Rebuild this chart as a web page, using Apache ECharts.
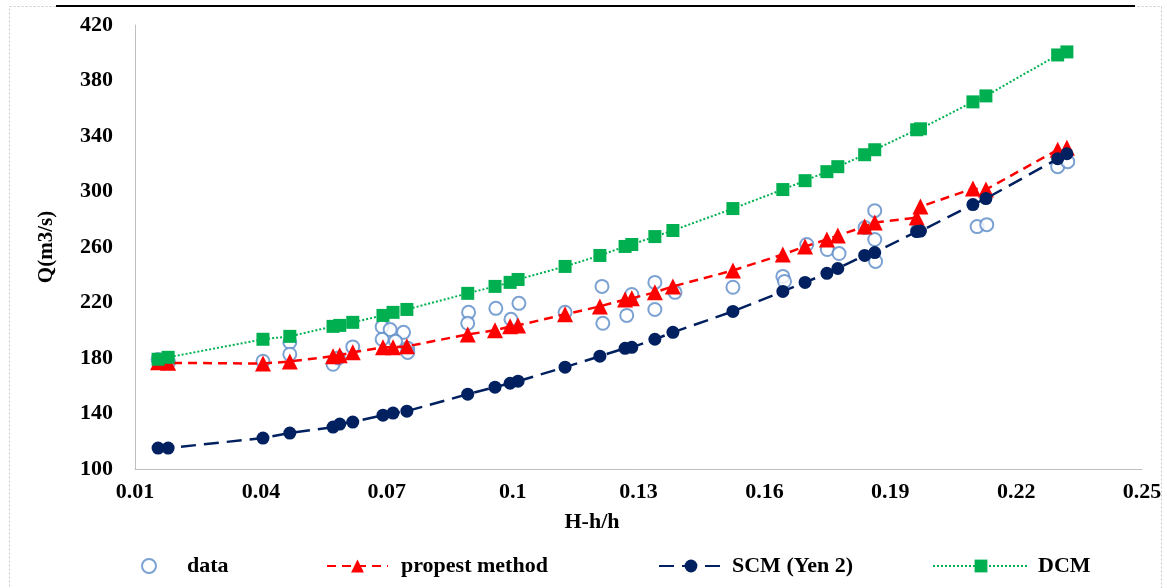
<!DOCTYPE html>
<html>
<head>
<meta charset="utf-8">
<script src="https://cdn.jsdelivr.net/npm/echarts@6/dist/echarts.min.js"></script>
<style>
html,body{margin:0;padding:0;background:#fff;}
#c{width:1167px;height:588px;}
</style>
</head>
<body>
<div id="c"></div>
<script>
// ---- data ----
const modelX = [0.0155, 0.0179, 0.0405, 0.0469, 0.0572, 0.0588, 0.0619, 0.0691, 0.0715, 0.0748,
  0.0893, 0.0958, 0.0994, 0.1013, 0.1125, 0.1208, 0.1268, 0.1284, 0.1339, 0.1382,
  0.1525, 0.1644, 0.1697, 0.1749, 0.1775, 0.1839, 0.1863, 0.1963, 0.1972, 0.2097,
  0.2128, 0.2299, 0.2321];
const propestQ = [177, 176.5, 176, 177.5, 181.3, 182.0, 184.1, 187.7, 187.7, 188.4,
  197.0, 200.0, 202.8, 203.5, 211.5, 217.2, 222.2, 223.0, 227.3, 231.6,
  243.1, 254.6, 260.4, 265.4, 268.3, 274.7, 277.6, 281.2, 289.1, 302.1,
  301.4, 330.1, 331.5];
const scmQ = [115.1, 115.1, 122.3, 125.9, 130.2, 132.4, 133.8, 138.8, 140.3, 141.7,
  153.9, 159.0, 161.8, 163.3, 173.4, 181.3, 187.0, 187.7, 193.5, 198.5,
  213.6, 228.0, 234.5, 241.0, 244.5, 253.9, 256.0, 271.1, 271.5, 290.6,
  294.9, 323.6, 327.2];
const dcmQ = [179.1, 180.5, 193.5, 195.6, 202.8, 203.5, 205.7, 210.7, 212.9, 215.0,
  226.6, 231.6, 234.5, 236.6, 246.0, 253.9, 260.4, 261.8, 267.5, 271.9,
  287.7, 301.4, 307.8, 314.3, 317.9, 326.5, 330.1, 344.5, 345.2, 364.6,
  368.9, 398.4, 400.6];
const dataX = [0.0155, 0.018, 0.0405, 0.0469, 0.0469, 0.0572, 0.0585, 0.0619, 0.0689, 0.0708,
  0.074, 0.0689, 0.0721, 0.075, 0.075, 0.0895, 0.0893, 0.096, 0.1015, 0.0996,
  0.1125, 0.1213, 0.1215, 0.1272, 0.1284, 0.1339, 0.1339, 0.1387, 0.1525, 0.1644,
  0.1648, 0.1701, 0.175, 0.1778, 0.184, 0.1863, 0.1863, 0.1865, 0.1965, 0.2107,
  0.213, 0.2299, 0.2323];
const dataQ = [179, 177, 177.7, 191.3, 182.7, 175.5, 180, 188, 202.5, 200.5,
  198.5, 193.5, 192, 187, 184, 212.9, 205, 215.8, 219.4, 207.9,
  212.9, 231.6, 205, 210.7, 225.8, 234.5, 215, 227.3, 231, 238.8,
  235.2, 261.8, 258.2, 255.3, 274, 286.2, 265.4, 249.6, 272, 274.7,
  276.1, 317.9, 321.5];
const xTicks = [0.01, 0.04, 0.07, 0.1, 0.13, 0.16, 0.19, 0.22, 0.25];
const xTickLabels = ['0.01', '0.04', '0.07', '0.1', '0.13', '0.16', '0.19', '0.22', '0.25'];
const yTicks = [100, 140, 180, 220, 260, 300, 340, 380, 420];
const yTickLabels = ['100', '140', '180', '220', '260', '300', '340', '380', '420'];
const seriesNames = ['data', 'propest method', 'SCM (Yen 2)', 'DCM'];

// ---- build ----
const pairs = (xs, ys) => xs.map((x, i) => [x, ys[i]]);
const FONT = '"Liberation Serif", "Times New Roman", serif';
const txt = {color: '#000', fontFamily: FONT, fontWeight: 'bold', fontSize: 22};

const chart = echarts.init(document.getElementById('c'), null, {renderer: 'canvas'});
const legendBase = {top: 555, padding: 0, itemHeight: 16, textStyle: Object.assign({}, txt)};
const option = {
  animation: false,
  backgroundColor: '#fff',
  grid: {left: 135, right: 25, top: 25, bottom: 119},
  xAxis: {
    type: 'value', min: 0.01, max: 0.25,
    axisLine: {show: true, lineStyle: {color: '#BFBFBF', width: 1}},
    axisTick: {show: false},
    splitLine: {show: false},
    axisLabel: Object.assign({
      customValues: xTicks,
      margin: 12,
      formatter: v => { const i = xTicks.findIndex(t => Math.abs(t - v) < 1e-9); return i >= 0 ? xTickLabels[i] : ''; }
    }, txt)
  },
  yAxis: {
    type: 'value', min: 100, max: 420,
    axisLine: {show: true, lineStyle: {color: '#BFBFBF', width: 1}},
    axisTick: {show: false},
    splitLine: {show: false},
    axisLabel: Object.assign({
      customValues: yTicks,
      margin: 22,
      formatter: v => { const i = yTicks.indexOf(v); return i >= 0 ? yTickLabels[i] : ''; }
    }, txt),
    name: 'Q(m3/s)', nameLocation: 'middle', nameRotate: 90, nameGap: 78,
    nameTextStyle: Object.assign({}, txt, {fontSize: 21})
  },
  legend: [
    Object.assign({}, legendBase, {data: [seriesNames[0]], left: 141, itemWidth: 66, itemHeight: 14}),
    Object.assign({}, legendBase, {data: [seriesNames[1]], left: 326, itemWidth: 61,
      textStyle: Object.assign({}, txt, {padding: [0, 0, 0, 8]})}),
    Object.assign({}, legendBase, {data: [seriesNames[2]], left: 658, itemWidth: 64,
      textStyle: Object.assign({}, txt, {padding: [0, 0, 0, 4]})}),
    Object.assign({}, legendBase, {data: [seriesNames[3]], left: 932, itemWidth: 96,
      textStyle: Object.assign({}, txt, {padding: [0, 0, 0, 4]})})
  ],
  graphic: [
    {type: 'rect', silent: true, z: 0,
      shape: {x: 9.5, y: 6.5, width: 1152, height: 600},
      style: {fill: 'none', stroke: '#C8C8C8', lineWidth: 1, lineDash: [2, 2]}},
    {type: 'rect', silent: true, z: 10,
      shape: {x: 56, y: 5, width: 1079, height: 2},
      style: {fill: '#000'}},
    {type: 'text', silent: true, z: 10,
      style: {x: 592, y: 522, text: 'H-h/h', align: 'center', verticalAlign: 'middle',
        fill: '#000', font: 'bold 22px "Liberation Serif", serif'}}
  ],
  series: [
    {
      name: seriesNames[0], type: 'scatter', z: 2,
      data: pairs(dataX, dataQ),
      symbol: 'emptyCircle', symbolSize: 13,
      itemStyle: {color: '#5B8BC8', borderColor: '#5B8BC8', borderWidth: 2}
    },
    {
      name: seriesNames[1], type: 'line', z: 3,
      data: pairs(modelX, propestQ),
      symbol: 'triangle', symbolSize: 16, showSymbol: true, showAllSymbol: true,
      itemStyle: {color: '#FF0000'},
      lineStyle: {color: '#FF0000', width: 2.5, type: [9, 6]}
    },
    {
      name: seriesNames[2], type: 'line', z: 4,
      data: pairs(modelX, scmQ),
      symbol: 'circle', symbolSize: 13, showSymbol: true, showAllSymbol: true,
      itemStyle: {color: '#002060'},
      lineStyle: {color: '#002060', width: 2.5, type: [15, 8]}
    },
    {
      name: seriesNames[3], type: 'line', z: 5,
      data: pairs(modelX, dcmQ),
      symbol: 'rect', symbolSize: 13, showSymbol: true, showAllSymbol: true,
      itemStyle: {color: '#00B050'},
      lineStyle: {color: '#00B050', width: 2, type: [2, 2]}
    }
  ]
};
chart.setOption(option);
</script>
</body>
</html>
